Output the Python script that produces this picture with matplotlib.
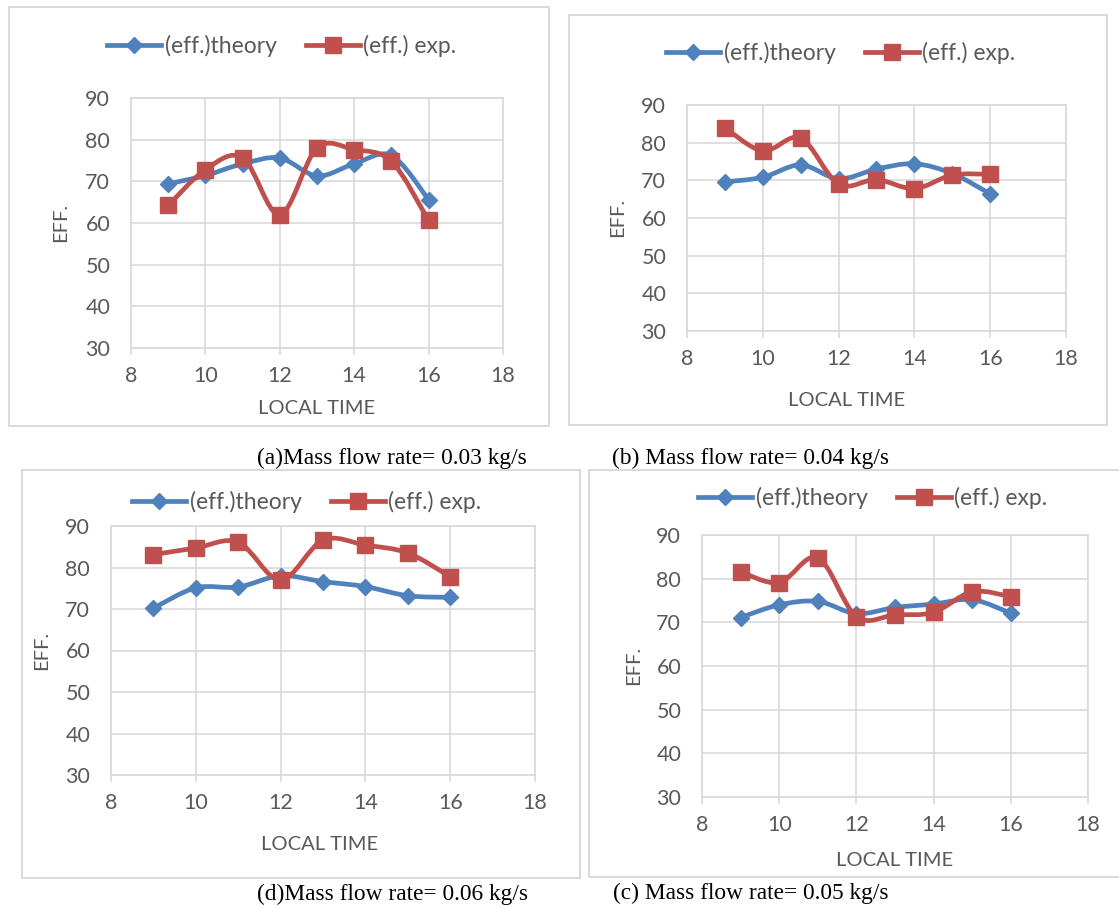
import numpy as np
import matplotlib
matplotlib.use("Agg")
import matplotlib.pyplot as plt
from matplotlib.path import Path
from matplotlib.patches import PathPatch, Rectangle
from matplotlib.lines import Line2D

plt.rcParams['font.family'] = ['Lato', 'DejaVu Sans']

W, H = 1119, 906

# local time (hours)
hours = [9, 10, 11, 12, 13, 14, 15, 16]

# efficiency readings for each mass flow rate
theory_003 = [69.4, 71.4, 74.2, 75.6, 71.3, 74.2, 76.2, 65.6]
exp_003 = [64.2, 72.8, 75.7, 62.0, 78.0, 77.6, 74.8, 60.6]

theory_004 = [69.6, 70.8, 74.1, 70.4, 73.0, 74.4, 71.8, 66.4]
exp_004 = [84.0, 77.8, 81.2, 69.0, 70.2, 67.8, 71.4, 71.6]

theory_006 = [70.2, 75.1, 75.3, 78.0, 76.6, 75.4, 73.2, 72.8]
exp_006 = [83.1, 84.7, 86.1, 77.0, 86.6, 85.4, 83.5, 77.8]

theory_005 = [71.1, 74.0, 74.8, 72.0, 73.4, 74.2, 75.2, 72.1]
exp_005 = [81.6, 79.1, 84.8, 71.3, 71.7, 72.3, 77.0, 75.9]

series_names = ["(eff.)theory", "(eff.) exp."]
captions = ["(a)Mass flow rate= 0.03 kg/s", "(b) Mass flow rate= 0.04 kg/s",
            "(d)Mass flow rate= 0.06 kg/s", "(c) Mass flow rate= 0.05 kg/s"]

BLUE = "#4F81BD"
RED = "#C0504D"
GRID = "#d9d9d9"
TXT = "#595959"

# pixel layout: plot box, chart border, legend centre, x title, y title, caption
panels = [
    dict(t=theory_003, e=exp_003, plot=(131, 98, 503, 348), border=(9, 7, 549, 426),
         leg=(282, 46), xl=(317, 409), yl=(61, 222), cap=(257, 464)),
    dict(t=theory_004, e=exp_004, plot=(687, 105, 1066, 331), border=(569, 15, 1107, 425),
         leg=(841, 53), xl=(847, 400), yl=(618, 217), cap=(612, 464)),
    dict(t=theory_006, e=exp_006, plot=(111, 526, 535, 775), border=(22, 470, 580, 878),
         leg=(307, 502), xl=(320, 844), yl=(42, 650), cap=(257, 900)),
    dict(t=theory_005, e=exp_005, plot=(702, 535, 1088, 797), border=(589, 470, 1130, 877),
         leg=(873, 498), xl=(895, 861), yl=(634, 665), cap=(613, 899)),
]


def smooth_path(xs, ys):
    # Excel-style smoothed line (Catmull-Rom as cubic Bezier)
    pts = np.column_stack([xs, ys]).astype(float)
    n = len(pts)
    verts = [pts[0]]
    codes = [Path.MOVETO]
    for i in range(n - 1):
        p0 = pts[max(i - 1, 0)]
        p1 = pts[i]
        p2 = pts[i + 1]
        p3 = pts[min(i + 2, n - 1)]
        verts += [p1 + (p2 - p0) / 6, p2 - (p3 - p1) / 6, p2]
        codes += [Path.CURVE4] * 3
    return Path(verts, codes)


fig = plt.figure(figsize=(W / 100, H / 100), dpi=100)
fig.patch.set_facecolor("white")

styles = [
    dict(color=BLUE, marker="D", ms=8.3),
    dict(color=RED, marker="s", ms=11.8),
]

for p in panels:
    x0, y0, x1, y1 = p["plot"]
    ax = fig.add_axes([x0 / W, 1 - y1 / H, (x1 - x0) / W, (y1 - y0) / H])
    ax.set_xlim(8, 18)
    ax.set_ylim(30, 90)
    ax.set_xticks(range(8, 19, 2))
    ax.set_yticks(range(30, 91, 10))
    ax.grid(True, color=GRID, lw=1.2, zorder=0)
    ax.set_axisbelow(True)
    for s in ax.spines.values():
        s.set_color(GRID)
        s.set_linewidth(1.2)
    ax.tick_params(axis="x", length=5, width=1.2, color=GRID, pad=8,
                   labelsize=15.5, labelcolor=TXT)
    ax.tick_params(axis="y", length=0, pad=15, labelsize=15.5, labelcolor=TXT)

    handles = []
    for vals, st, name in zip([p["t"], p["e"]], styles, series_names):
        ax.add_patch(PathPatch(smooth_path(hours, vals), fill=False,
                               edgecolor=st["color"], lw=3.4,
                               capstyle="round", joinstyle="round", zorder=3))
        ax.plot(hours, vals, ls="none", marker=st["marker"], ms=st["ms"],
                color=st["color"], mec=st["color"], mew=1, zorder=4)
        handles.append(Line2D([], [], color=st["color"], lw=3.4,
                              marker=st["marker"], ms=st["ms"], mew=1))

    lx, ly = p["leg"]
    fig.legend(handles, series_names, loc="center",
               bbox_to_anchor=(lx / W, 1 - ly / H), ncol=2, frameon=False,
               fontsize=16.5, labelcolor=TXT, numpoints=1, handlelength=2.35,
               handletextpad=0.17, columnspacing=1.25, borderpad=0)

    fig.text(p["xl"][0] / W, 1 - p["xl"][1] / H, "LOCAL TIME", ha="center",
             va="center", fontsize=14.5, color=TXT)
    fig.text(p["yl"][0] / W, 1 - p["yl"][1] / H, "EFF.", ha="center",
             va="center", rotation=90, fontsize=14.5, color=TXT)

    bx0, by0, bx1, by1 = p["border"]
    fig.add_artist(Rectangle((bx0 / W, 1 - by1 / H), (bx1 - bx0) / W,
                             (by1 - by0) / H, transform=fig.transFigure,
                             fill=False, edgecolor=GRID, lw=1.4))

for p, cap in zip(panels, captions):
    fig.text(p["cap"][0] / W, 1 - p["cap"][1] / H, cap, ha="left",
             va="baseline", fontsize=16.8, color="black",
             family=["Liberation Serif", "DejaVu Serif"])

fig.savefig("out.png", dpi=100)
